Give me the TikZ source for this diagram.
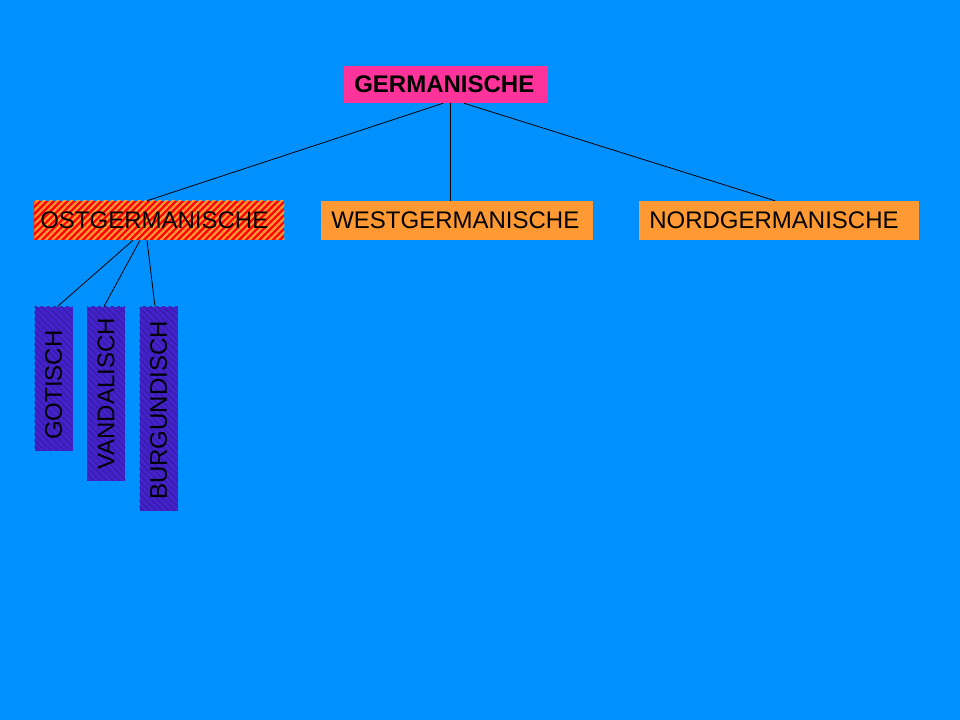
\documentclass[tikz,border=0pt]{standalone}
\usepackage{fontspec}
\setmainfont{Liberation Sans}
\usetikzlibrary{calc,patterns.meta}
\definecolor{sky}{RGB}{0,145,255}
\definecolor{rose}{RGB}{255,51,153}
\definecolor{apricot}{RGB}{255,153,51}
\definecolor{violet}{RGB}{70,34,206}
\definecolor{darkviolet}{RGB}{58,30,176}
\tikzset{
  branch/.style={anchor=west,inner ysep=0pt,inner xsep=7.5pt,minimum height=29.25pt,align=left,font=\fontsize{18}{18}\selectfont},
  dialect/.style={rotate=90,anchor=west,inner ysep=0pt,inner xsep=8.25pt,align=left,font=\fontsize{18}{18}\selectfont},
  link/.style={line width=0.6pt}
}
\begin{document}
\begin{tikzpicture}[x=0.75pt,y=-0.75pt]
		\fill[sky] (0,0) rectangle (960,720);
		\useasboundingbox (0,0) rectangle (960,720);
		\node[branch,fill=rose,text width=138pt,minimum height=27.75pt,font=\fontsize{18}{18}\selectfont\bfseries] (ger) at (344,84.5) {GERMANISCHE};
		\node[branch,fill=red,inner xsep=4.5pt,text width=178.5pt,
		  postaction={pattern={Lines[angle=45,distance=3.6pt,line width=1.7pt]},pattern color=apricot}] (ost) at (34,220.5) {OSTGERMANISCHE};
		\node[branch,fill=apricot,text width=189pt] (west) at (321,220.5) {WESTGERMANISCHE};
		\node[branch,fill=apricot,text width=195pt] (nord) at (639,220.5) {NORDGERMANISCHE};
		% dialects, text runs upwards
		\foreach \name/\x/\bottom/\txt in {got/53.5/451/GOTISCH,van/106/481/VANDALISCH,bur/158.5/511/BURGUNDISCH}{
		  \pgfmathsetmacro\len{(\bottom-307)*0.75-16.5}
		  \node[dialect,fill=violet,minimum height=28.5pt,text width=\len pt,
		    postaction={pattern={Lines[angle=-45,distance=3.4pt,line width=1.4pt]},pattern color=darkviolet}] (\name) at (\x,\bottom) {\txt};
		}
		\draw[link] ($(ger.south west)+(99,0)$)--($(ost.north west)+(113,0)$);
		\draw[link] ($(ger.south west)+(106,0)$)--($(west.north west)+(129,0)$);
		\draw[link] ($(ger.south west)+(120,0)$)--($(nord.north west)+(136,0)$);
		\draw[link] ($(ost.south west)+(99,0)$)--($(got.east)+(4,0)$);
		\draw[link] ($(ost.south west)+(106,0)$)--($(van.east)+(-2,0)$);
		\draw[link] ($(ost.south west)+(113,0)$)--($(bur.east)+(-3.5,0)$);
\end{tikzpicture}
\end{document}
